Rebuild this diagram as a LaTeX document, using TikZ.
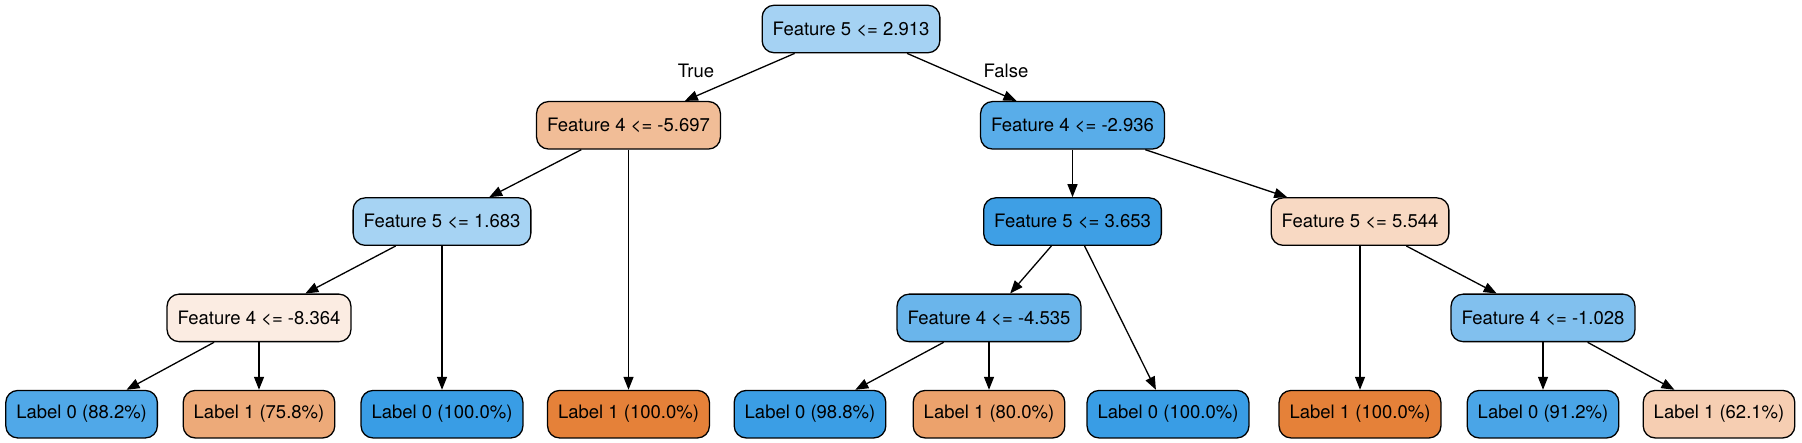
\documentclass[tikz,border=0pt]{standalone}
\usepackage{fontspec}
\setmainfont{TeX Gyre Heros}
\usetikzlibrary{arrows.meta}
\definecolor{cRoot}{RGB}{165,210,243}
\definecolor{cA}{RGB}{241,189,151}
\definecolor{cB}{RGB}{89,173,233}
\definecolor{cC}{RGB}{166,211,243}
\definecolor{cD}{RGB}{62,159,229}
\definecolor{cE}{RGB}{248,217,195}
\definecolor{cF}{RGB}{251,236,226}
\definecolor{cG}{RGB}{106,181,235}
\definecolor{cH}{RGB}{129,192,238}
\definecolor{cL1}{RGB}{80,168,232}
\definecolor{cL2}{RGB}{237,170,121}
\definecolor{cL3}{RGB}{57,157,229}
\definecolor{cL4}{RGB}{229,129,57}
\definecolor{cL5}{RGB}{59,158,229}
\definecolor{cL6}{RGB}{236,162,108}
\definecolor{cL9}{RGB}{74,165,231}
\definecolor{cL10}{RGB}{246,206,178}
\begin{document}
\begin{tikzpicture}[x=1pt,y=-1pt,
  tn/.style={draw=black, line width=1.3pt, rounded corners=12pt, minimum height=47.5pt,
    inner xsep=10.5pt, font=\fontsize{18.5}{22}\selectfont, text=black},
  conn/.style={line width=1.3pt, -{Triangle[length=13pt,width=10pt]}},
  lbl/.style={font=\fontsize{18.5}{22}\selectfont, text=black}
]
\useasboundingbox (0,0) rectangle (1802,443);
% level 0
\node[tn, fill=cRoot] (root) at (851,29) {Feature 5 <= 2.913};
% level 1
\node[tn, fill=cA] (n1) at (628.5,125.3) {Feature 4 <= -5.697};
\node[tn, fill=cB] (n2) at (1072.5,125.3) {Feature 4 <= -2.936};
% level 2
\node[tn, fill=cC] (n3) at (442,221.6) {Feature 5 <= 1.683};
\node[tn, fill=cD] (n4) at (1072.5,221.6) {Feature 5 <= 3.653};
\node[tn, fill=cE] (n5) at (1360,221.6) {Feature 5 <= 5.544};
% level 3
\node[tn, fill=cF] (n6) at (259,317.9) {Feature 4 <= -8.364};
\node[tn, fill=cG] (n7) at (989,317.9) {Feature 4 <= -4.535};
\node[tn, fill=cH] (n8) at (1543,317.9) {Feature 4 <= -1.028};
% leaves
\node[tn, fill=cL1] (l1) at (81.6,414.2) {Label 0 (88.2\%)};
\node[tn, fill=cL2] (l2) at (259,414.2) {Label 1 (75.8\%)};
\node[tn, fill=cL3] (l3) at (442,414.2) {Label 0 (100.0\%)};
\node[tn, fill=cL4] (l4) at (628.5,414.2) {Label 1 (100.0\%)};
\node[tn, fill=cL5] (l5) at (810,414.2) {Label 0 (98.8\%)};
\node[tn, fill=cL6] (l6) at (989,414.2) {Label 1 (80.0\%)};
\node[tn, fill=cL3] (l7) at (1168,414.2) {Label 0 (100.0\%)};
\node[tn, fill=cL4] (l8) at (1360,414.2) {Label 1 (100.0\%)};
\node[tn, fill=cL9] (l9) at (1543,414.2) {Label 0 (91.2\%)};
\node[tn, fill=cL10] (l10) at (1719,414.2) {Label 1 (62.1\%)};
% edge labels
\node[lbl] (tTrue) at (696,71) {True};
\node[lbl] (tFalse) at (1006,71) {False};
% connectors
\draw[conn] (root) -- (n1);
\draw[conn] (root) -- (n2);
\draw[conn] (n1) -- (n3);
\draw[conn] (n1) -- (l4);
\draw[conn] (n2) -- (n4);
\draw[conn] (n2) -- (n5);
\draw[conn] (n3) -- (n6);
\draw[conn] (n3) -- (l3);
\draw[conn] (n6) -- (l1);
\draw[conn] (n6) -- (l2);
\draw[conn] (n4) -- (n7);
\draw[conn] (n4) -- (l7);
\draw[conn] (n7) -- (l5);
\draw[conn] (n7) -- (l6);
\draw[conn] (n5) -- (l8);
\draw[conn] (n5) -- (n8);
\draw[conn] (n8) -- (l9);
\draw[conn] (n8) -- (l10);
\end{tikzpicture}
\end{document}
